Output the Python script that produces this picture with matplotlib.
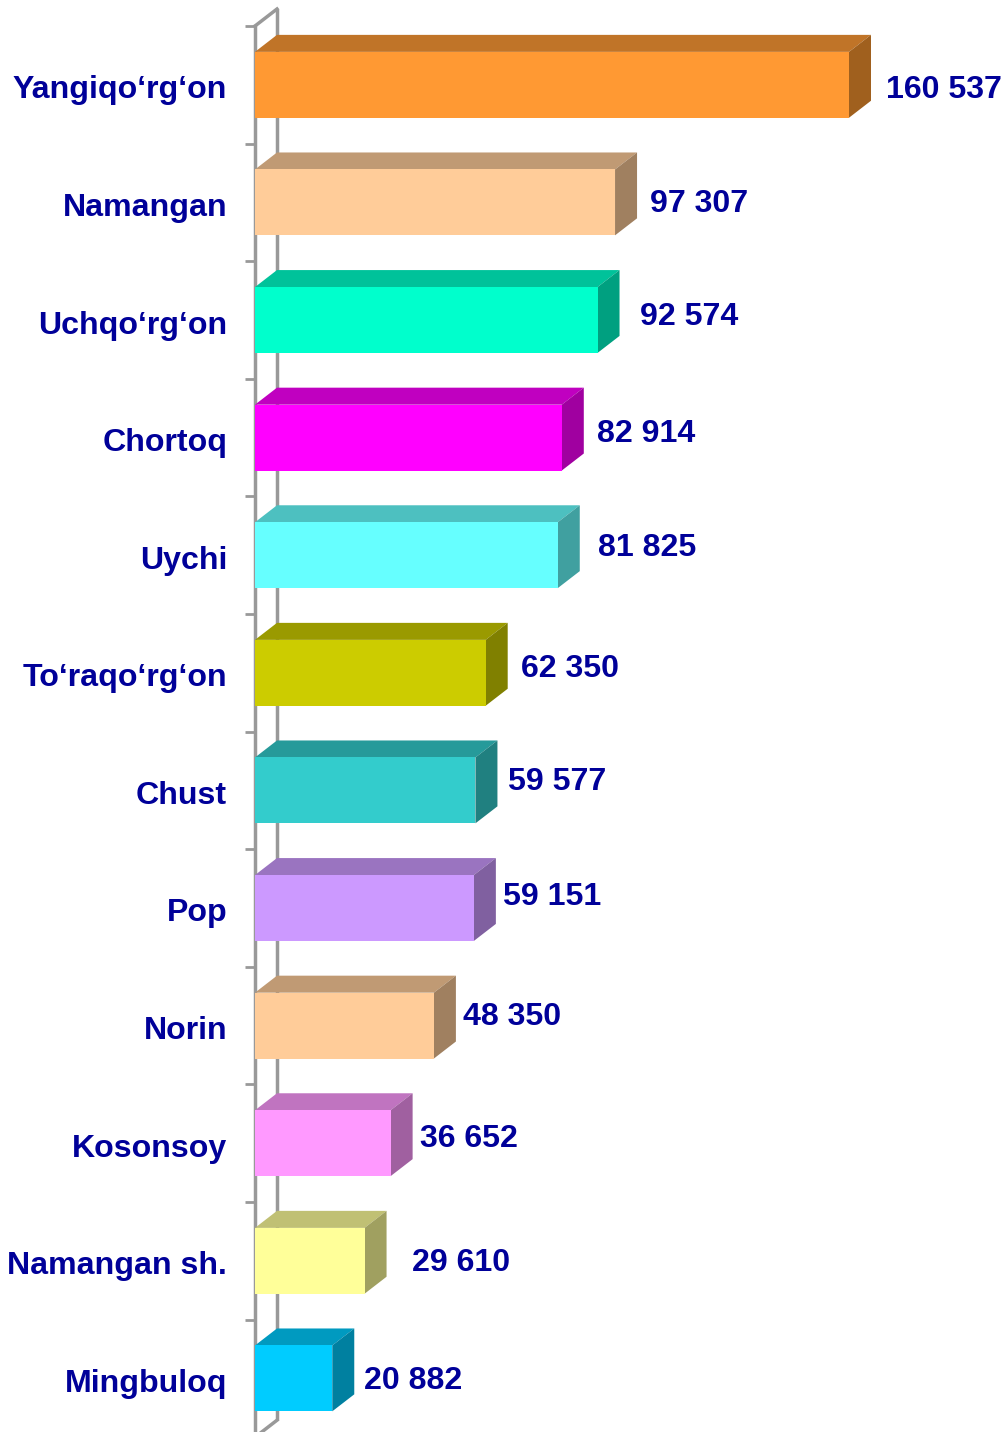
"""
3D-style horizontal bar chart of district values (Namangan region).
"""
import matplotlib
matplotlib.use("Agg")
import matplotlib.pyplot as plt
import matplotlib.transforms as mtransforms
from matplotlib.patches import Polygon
import numpy as np


################################################################################
# DATA
################################################################################

districts = [
    "Yangiqo‘rg‘on", "Namangan", "Uchqo‘rg‘on", "Chortoq", "Uychi",
    "To‘raqo‘rg‘on", "Chust", "Pop", "Norin", "Kosonsoy",
    "Namangan sh.", "Mingbuloq",
]
values = [160537, 97307, 92574, 82914, 81825, 62350,
          59577, 59151, 48350, 36652, 29610, 20882]
value_labels = ["160 537", "97 307", "92 574", "82 914", "81 825", "62 350",
                "59 577", "59 151", "48 350", "36 652", "29 610", "20 882"]

# (front, top, side) colours per bar
front_colors = ["#FF9933", "#FFCC99", "#00FFCC", "#FF00FF", "#66FFFF", "#CCCC00",
                "#33CCCC", "#CC99FF", "#FFCC99", "#FF99FF", "#FFFF99", "#00CCFF"]
top_colors = ["#C07428", "#C09A74", "#00C29A", "#C000C0", "#4DC0C0", "#9A9A00",
              "#269A9A", "#9A74C0", "#C09A74", "#C074C0", "#C0C074", "#009AC0"]
side_colors = ["#A0601E", "#A08060", "#00A080", "#A000A0", "#40A0A0", "#808000",
               "#208080", "#8060A0", "#A08060", "#A060A0", "#A0A060", "#0080A0"]

# label nudges in pixels (dx from bar front end, dy upward)
label_dx = [37, 35, 42, 35, 40, 35, 33, 29, 29, 29, 47, 32]
label_dy = [-5, -2, 3, 4, 7, 4, 8, 11, 9, 4, -2, -3]


################################################################################
# SETUP
################################################################################

W, H, DPI = 1008, 1432, 100
text_color = "#000099"
axis_color = "#999999"
font = ["Liberation Sans", "DejaVu Sans"]
fs = 23.1

x0_px = 255          # left edge of the plot (front wall)
top_px = 26          # top of the plot
cat_px = 117.6       # height of one category band
xmax = 200000
scale = 594 / 160537  # pixels per unit
depth_x, depth_y = 22, 17  # 3D depth in pixels
bar_h = 0.56

n = len(districts)
ax_w = xmax * scale
ax_h = n * cat_px

fig = plt.figure(figsize=(W / DPI, H / DPI), dpi=DPI)
ax = fig.add_axes([x0_px / W, 1 - (top_px + ax_h) / H, ax_w / W, ax_h / H])
ax.set_xlim(0, xmax)
ax.set_ylim(n - 0.5, -0.5)

dx = depth_x / scale
dy = depth_y / cat_px


################################################################################
# PLOTTING
################################################################################

# Back wall line and connectors.
ax.plot([dx, dx], [-0.5 - dy, n - 0.5 - dy], color=axis_color, lw=2.5,
        clip_on=False, zorder=1, solid_capstyle="butt")
ax.plot([0, dx], [-0.5, -0.5 - dy], color=axis_color, lw=2.5, clip_on=False, zorder=1)
ax.plot([0, dx], [n - 0.5, n - 0.5 - dy], color=axis_color, lw=2.5, clip_on=False, zorder=1)

y = np.arange(n)
ax.barh(y, values, height=bar_h, color=front_colors, zorder=3, linewidth=0)

for i, v in enumerate(values):
    yt = i - bar_h / 2
    yb = i + bar_h / 2
    top = Polygon([(0, yt), (dx, yt - dy), (v + dx, yt - dy), (v, yt)],
                  closed=True, facecolor=top_colors[i], edgecolor="none",
                  zorder=2, clip_on=False)
    side = Polygon([(v, yt), (v + dx, yt - dy), (v + dx, yb - dy), (v, yb)],
                   closed=True, facecolor=side_colors[i], edgecolor="none",
                   zorder=2, clip_on=False)
    ax.add_patch(top)
    ax.add_patch(side)
    ax.annotate(value_labels[i], (v, i), xytext=(label_dx[i], label_dy[i]),
                textcoords="offset pixels", ha="left", va="center",
                fontsize=fs, fontweight="bold", color=text_color,
                family=font, annotation_clip=False)

# Aesthetics.
for s in ["top", "right", "bottom"]:
    ax.spines[s].set_visible(False)
ax.spines["left"].set_color(axis_color)
ax.spines["left"].set_linewidth(2.5)
ax.spines["left"].set_zorder(1)
ax.set_xticks([])
ax.set_yticks(y)
ax.set_yticklabels(districts, fontsize=fs, fontweight="bold",
                   color=text_color, family=font)
ax.tick_params(axis="y", which="major", length=0, pad=20)
shift = mtransforms.ScaledTranslation(0, -2 / DPI, fig.dpi_scale_trans)
for lbl in ax.get_yticklabels():
    lbl.set_transform(lbl.get_transform() + shift)
ax.set_yticks(np.arange(n + 1) - 0.5, minor=True)
ax.tick_params(axis="y", which="minor", length=7, width=2, color=axis_color)
ax.patch.set_alpha(0)


################################################################################
# EXPORT
################################################################################

fig.savefig("out.png", dpi=DPI)
